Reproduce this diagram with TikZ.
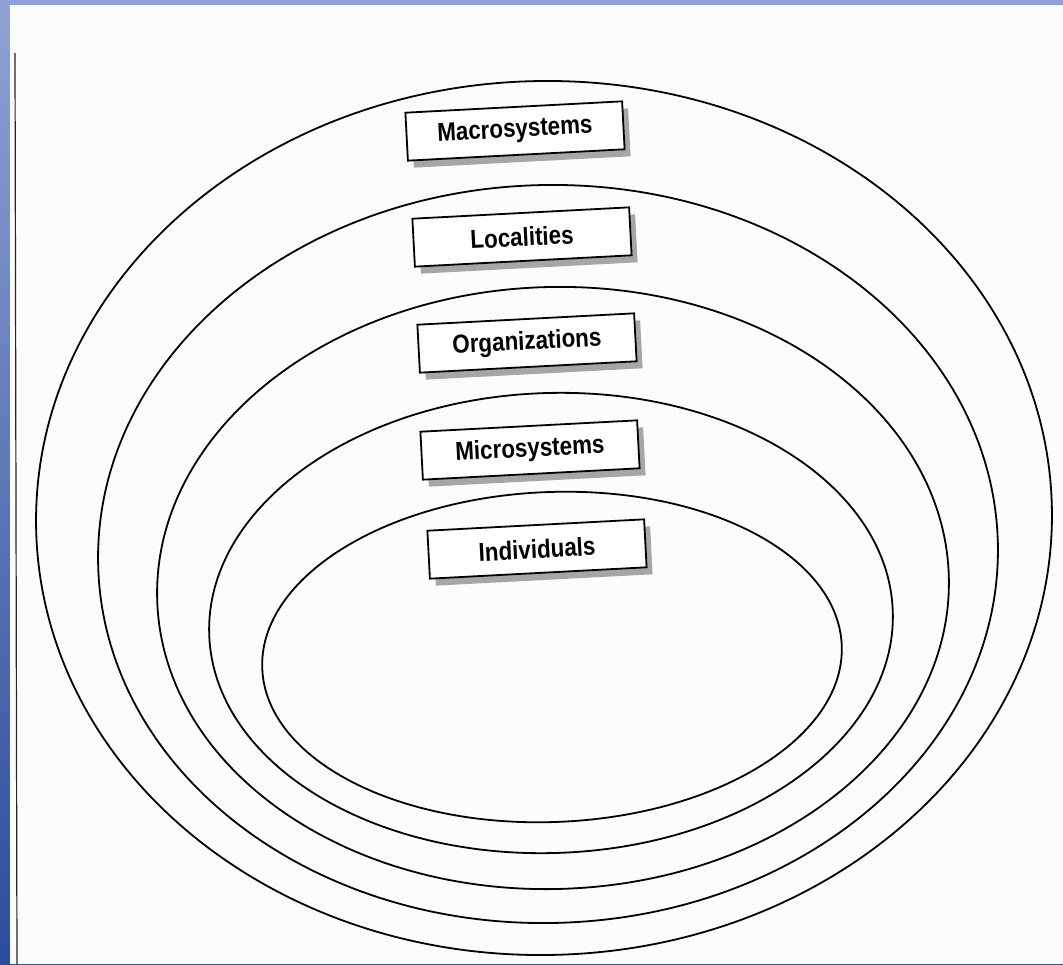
\documentclass[tikz,border=0pt]{standalone}
\usepackage{fontspec}
\usepackage{pgf,tikz}
\usetikzlibrary{shapes,shadows,positioning}
\newfontfamily\boxfont{Liberation Sans}
\newcommand{\boxlabel}[1]{\scalebox{0.86}[1]{#1}}
\definecolor{slideblue}{HTML}{5E7CC0}
\definecolor{slidedark}{HTML}{2C4C9C}
\tikzstyle{ring} = [draw=black, line width=1.8pt]
\tikzstyle{levelbox} = [draw=black, fill=white, line width=1.8pt, rectangle, rotate=3,
    minimum width=217pt, minimum height=48pt, inner sep=0pt,
    font=\boxfont\bfseries\fontsize{26}{29}\selectfont,
    drop shadow={shadow xshift=6pt, shadow yshift=-7pt, fill=gray!70, opacity=1}]

\begin{document}
\begin{tikzpicture}[x=1pt,y=-1pt]
					\useasboundingbox (0,0) rectangle (1063,964);
					% slide behind the scanned page
					\shade[top color=slideblue!70, bottom color=slidedark] (0,0) rectangle (1063,964);
					\fill[white!98!gray] (10,5) rectangle (1063,964);
					\draw[black!85, line width=1.2pt] (15,53) -- (17,964);
					% nested levels
					\draw[ring, rotate around={1.2:(544,518)}] (544,518) ellipse [x radius=508, y radius=437];
					\draw[ring, rotate around={1.5:(548,554)}] (548,554) ellipse [x radius=450, y radius=369];
					\draw[ring, rotate around={1.8:(553,588)}] (553,588) ellipse [x radius=396, y radius=301];
					\draw[ring, rotate around={2.0:(551,623)}] (551,623) ellipse [x radius=342, y radius=230];
					\draw[ring, rotate around={2.3:(552,657)}] (552,657) ellipse [x radius=290, y radius=165];
					% labels
					\node[levelbox] (macro) at (515,131) {\boxlabel{Macrosystems}};
					\node[levelbox] (local) at (522,237) {\boxlabel{Localities}};
					\node[levelbox] (org) at (527,343) {\boxlabel{Organizations}};
					\node[levelbox] (micro) at (530,450) {\boxlabel{Microsystems}};
					\node[levelbox] (indiv) at (537,549) {\boxlabel{Individuals}};
\end{tikzpicture}
\end{document}
